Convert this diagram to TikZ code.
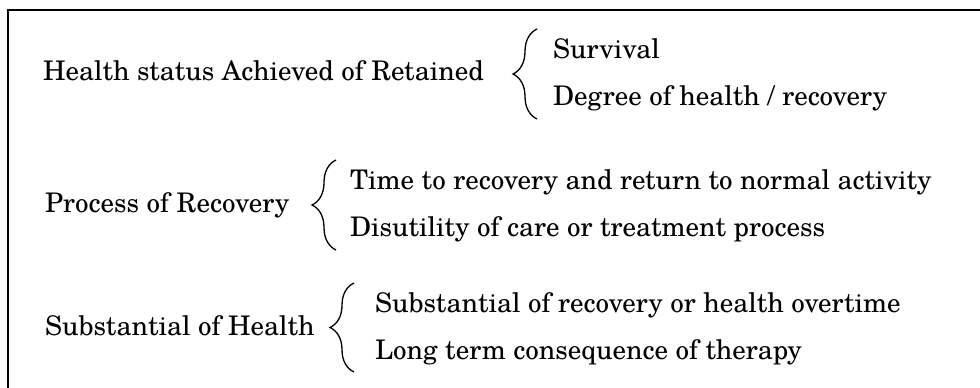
\documentclass[tikz,border=0pt]{standalone}
\usepackage{fontspec}
\setmainfont{TeX Gyre Schola}
\usetikzlibrary{decorations.pathreplacing}
\begin{document}
\begin{tikzpicture}[x=1pt,y=-1pt,
  lbl/.style={anchor=base west,inner sep=0pt,font=\fontsize{27}{31}\selectfont},
  bracepath/.style={line width=1.3pt,decorate,decoration={brace,amplitude=24pt}},
  frameline/.style={line width=1.5pt}]
\useasboundingbox (0,0) rectangle (980,388);
\draw[frameline] (8,388) -- (8,10) -- (980,10);
% row 1
\node[lbl] (h1) at (43,80) {Health status Achieved of Retained};
\node[lbl] (a1) at (553,58) {Survival};
\node[lbl] (b1) at (553,105) {Degree of health / recovery};
\coordinate (t1) at (537,29);
\coordinate (u1) at (537,119);
\draw[bracepath] (u1) -- (t1);
% row 2
\node[lbl] (h2) at (45,212) {Process of Recovery};
\node[lbl] (a2) at (350,189) {Time to recovery and return to normal activity};
\node[lbl] (b2) at (350,236) {Disutility of care or treatment process};
\coordinate (t2) at (336,160);
\coordinate (u2) at (336,250);
\draw[bracepath] (u2) -- (t2);
% row 3
\node[lbl] (h3) at (45,335) {Substantial of Health};
\node[lbl] (a3) at (375,312) {Substantial of recovery or health overtime};
\node[lbl] (b3) at (375,359) {Long term consequence of therapy};
\coordinate (t3) at (354,283);
\coordinate (u3) at (354,372);
\draw[bracepath] (u3) -- (t3);
\end{tikzpicture}
\end{document}
